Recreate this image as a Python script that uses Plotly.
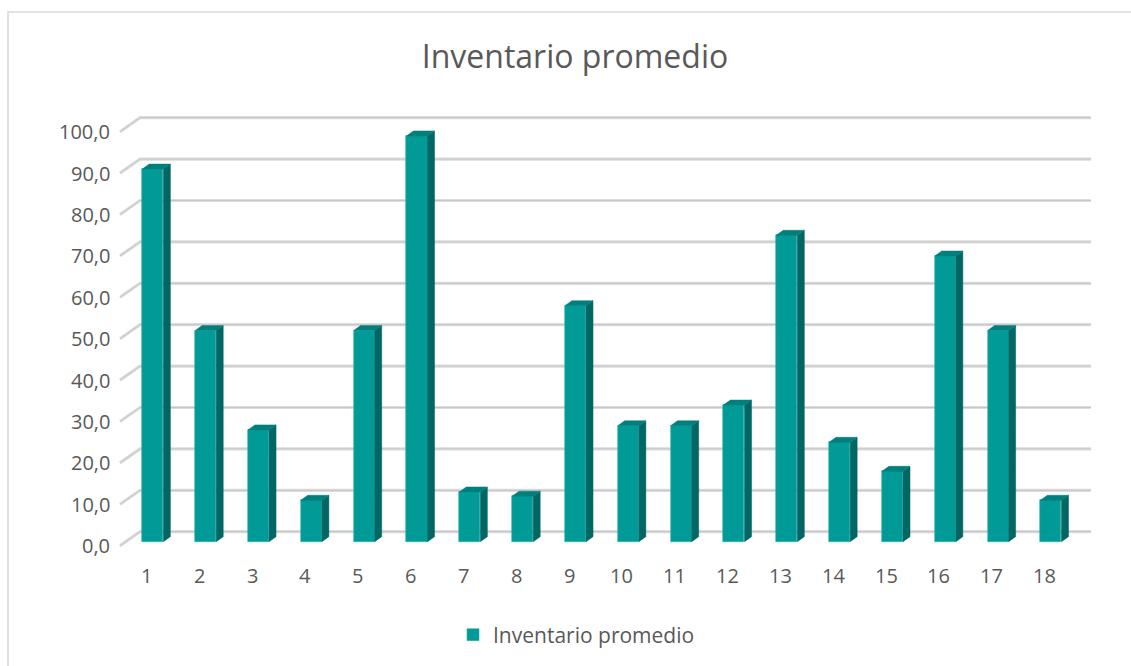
import plotly.graph_objects as go

# ---- data -------------------------------------------------------------
categories = list(range(1, 19))
inventario_promedio = [90, 51, 27, 10, 51, 98, 12, 11, 57,
                       28, 28, 33, 74, 24, 17, 69, 51, 10]
y_ticks = [0, 10, 20, 30, 40, 50, 60, 70, 80, 90, 100]
y_tick_labels = ["0,0", "10,0", "20,0", "30,0", "40,0", "50,0",
                 "60,0", "70,0", "80,0", "90,0", "100,0"]
series_name = "Inventario promedio"
chart_title = "Inventario promedio"

# ---- pseudo-3D geometry (in axis units) -------------------------------
WALL_DX, WALL_DY = 0.379, 3.38      # offset from front plane to back wall
BAR_SHIFT_X, BAR_LIFT = 0.121, 0.97  # bar front face sits a bit into the depth
BAR_W = 0.40                         # width of the front face
DEPTH_DX, DEPTH_DY = 0.133, 1.21     # visible depth of each column

FRONT = "#009a97"
SIDE = "#006764"
TOP = "#007f7c"
TEXT = "#595959"
FONT = "Open Sans"

fig = go.Figure()

# front faces of the columns
fig.add_trace(go.Bar(
    x=[c + BAR_SHIFT_X for c in categories],
    y=inventario_promedio,
    base=BAR_LIFT,
    width=BAR_W,
    name=series_name,
    marker=dict(color=FRONT, line=dict(color="#2fb3b0", width=0.6)),
    showlegend=True,
))

# side and top faces built from the same values
side_x, side_y, top_x, top_y = [], [], [], []
for c, v in zip(categories, inventario_promedio):
    xl = c + BAR_SHIFT_X - BAR_W / 2
    xr = c + BAR_SHIFT_X + BAR_W / 2
    y0 = BAR_LIFT
    y1 = BAR_LIFT + v
    side_x += [xr, xr + DEPTH_DX, xr + DEPTH_DX, xr, xr, None]
    side_y += [y0, y0 + DEPTH_DY, y1 + DEPTH_DY, y1, y0, None]
    top_x += [xl, xl + DEPTH_DX, xr + DEPTH_DX, xr, xl, None]
    top_y += [y1, y1 + DEPTH_DY, y1 + DEPTH_DY, y1, y1, None]

fig.add_trace(go.Scatter(x=side_x, y=side_y, mode="lines", fill="toself",
                         fillcolor=SIDE, line=dict(color=SIDE, width=0.5),
                         showlegend=False, hoverinfo="skip"))
fig.add_trace(go.Scatter(x=top_x, y=top_y, mode="lines", fill="toself",
                         fillcolor=TOP, line=dict(color=TOP, width=0.5),
                         showlegend=False, hoverinfo="skip"))

# gridlines: short diagonal on the side wall + line along the back wall
x_left = categories[0] - 0.5
x_right = categories[-1] + 0.5
shapes = []
for v in y_ticks:
    path = (f"M {x_left},{v} L {x_left + WALL_DX},{v + WALL_DY} "
            f"L {x_right + WALL_DX},{v + WALL_DY}")
    shapes.append(dict(type="path", path=path, xref="x", yref="y",
                       line=dict(color="#dcdcdc", width=3.2), layer="below"))
    shapes.append(dict(type="path", path=path, xref="x", yref="y",
                       line=dict(color="#c6c6c6", width=1), layer="below"))

# chart area border
shapes.append(dict(type="rect", xref="paper", yref="paper",
                   x0=8 / 1131, x1=1.02, y0=-0.02, y1=1 - 12 / 666,
                   line=dict(color="#d9d9d9", width=1.6), layer="below"))

annotations = []
for v, lab in zip(y_ticks, y_tick_labels):
    annotations.append(dict(x=0.35, y=v, xref="x", yref="y", text=lab,
                            showarrow=False, xanchor="right", yanchor="middle",
                            font=dict(family=FONT, size=20, color=TEXT)))
for c in categories:
    annotations.append(dict(x=c, y=-7.3, xref="x", yref="y", text=str(c),
                            showarrow=False, xanchor="center", yanchor="middle",
                            font=dict(family=FONT, size=20, color=TEXT)))

fig.update_layout(
    width=1131, height=666,
    margin=dict(l=0, r=0, t=0, b=0),
    paper_bgcolor="white", plot_bgcolor="white",
    title=dict(text=chart_title, x=575 / 1131, xanchor="center",
               y=1 - 57 / 666, yanchor="middle",
               font=dict(family=FONT, size=32, color=TEXT)),
    xaxis=dict(range=[-1.7712, 19.637], visible=False, fixedrange=True),
    yaxis=dict(range=[-29.06, 131.81], visible=False, fixedrange=True),
    shapes=shapes,
    annotations=annotations,
    legend=dict(orientation="h", x=453 / 1131, xanchor="left",
                y=1 - 635 / 666, yanchor="middle",
                font=dict(family=FONT, size=21, color=TEXT),
                bgcolor="rgba(0,0,0,0)"),
    bargap=0,
)

fig.write_html("out.html")
